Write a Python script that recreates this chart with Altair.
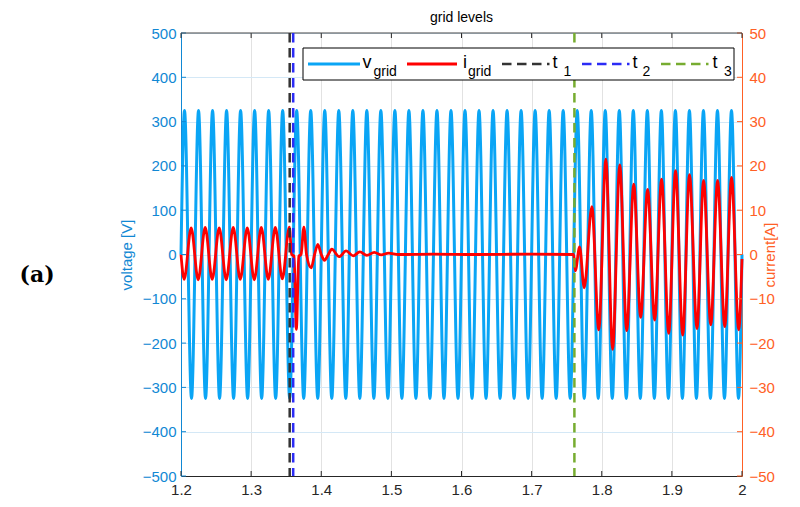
import altair as alt
import pandas as pd

# ---------------- data ----------------
# grid voltage: zero at start/end, then the extreme of every half cycle (V)
v_times = [1.200,
           1.205, 1.215, 1.225, 1.235, 1.245, 1.255, 1.265, 1.275, 1.285, 1.295,
           1.305, 1.315, 1.325, 1.335, 1.345, 1.355, 1.365, 1.375, 1.385, 1.395,
           1.405, 1.415, 1.425, 1.435, 1.445, 1.455, 1.465, 1.475, 1.485, 1.495,
           1.505, 1.515, 1.525, 1.535, 1.545, 1.555, 1.565, 1.575, 1.585, 1.595,
           1.605, 1.615, 1.625, 1.635, 1.645, 1.655, 1.665, 1.675, 1.685, 1.695,
           1.705, 1.715, 1.725, 1.735, 1.745, 1.755, 1.765, 1.775, 1.785, 1.795,
           1.805, 1.815, 1.825, 1.835, 1.845, 1.855, 1.865, 1.875, 1.885, 1.895,
           1.905, 1.915, 1.925, 1.935, 1.945, 1.955, 1.965, 1.975, 1.985, 1.995,
           2.000]
v_values = [0,
            325, -325, 325, -325, 325, -325, 325, -325, 325, -325,
            325, -325, 325, -325, 325, -325, 325, -325, 325, -325,
            325, -325, 325, -325, 325, -325, 325, -325, 325, -325,
            325, -325, 325, -325, 325, -325, 325, -325, 325, -325,
            325, -325, 325, -325, 325, -325, 325, -325, 325, -325,
            325, -325, 325, -325, 325, -325, 325, -325, 325, -325,
            325, -325, 325, -325, 325, -325, 325, -325, 325, -325,
            325, -325, 325, -325, 325, -325, 325, -325, 325, -325,
            0]

# grid current (A): extremes and zero crossings
i_times = [1.2000, 1.2045, 1.2145, 1.2245, 1.2345, 1.2445, 1.2545, 1.2645, 1.2745,
           1.2845, 1.2945, 1.3045, 1.3145, 1.3245, 1.3345, 1.3445, 1.3545,
           1.3578, 1.3612, 1.3645, 1.3680, 1.3712, 1.3752, 1.3790, 1.3857, 1.3905,
           1.3951, 1.4000, 1.4046, 1.4100, 1.4150, 1.4255, 1.4355, 1.4455, 1.4550,
           1.4650, 1.4757, 1.4855, 1.4960, 1.5100, 1.5600, 1.6200, 1.7000, 1.7600,
           1.7623, 1.7684, 1.7750, 1.7859, 1.7958, 1.8058, 1.8155, 1.8257, 1.8356,
           1.8456, 1.8555, 1.8654, 1.8755, 1.8853, 1.8955, 1.9052, 1.9155, 1.9251,
           1.9358, 1.9452, 1.9555, 1.9652, 1.9754, 1.9851, 1.9953, 2.0000]
i_values = [0.0, -5.6, 6.0, -5.7, 6.1, -5.6, 6.0, -5.7, 6.1,
            -5.6, 6.0, -5.7, 6.1, -5.6, 6.1, -5.5, 6.2,
            0.0, -0.4, -16.9, -0.4, 0.0, 6.2, 0.0, -3.0, 0.0,
            2.3, 0.0, -1.3, 0.0, 1.2, -0.5, 0.8, -0.3, 0.6,
            -0.2, 0.5, -0.1, 0.3, 0.0, 0.1, 0.0, 0.1, 0.0,
            -3.7, 1.7, -7.5, 10.8, -17.0, 21.5, -21.4, 20.2, -17.2,
            15.9, -14.2, 14.7, -14.8, 17.0, -17.8, 18.9, -18.2, 18.0,
            -16.7, 16.7, -15.9, 16.7, -16.3, 17.4, -17.0, -1.0]

# event markers
event_names = ["t1", "t2", "t3"]
event_times = [1.355, 1.360, 1.761]
event_colors = ["#333333", "#2b2bf5", "#77ac30"]

x_ticks = [1.2, 1.3, 1.4, 1.5, 1.6, 1.7, 1.8, 1.9, 2.0]
v_ticks = [-500, -400, -300, -200, -100, 0, 100, 200, 300, 400, 500]
i_ticks = [-50, -40, -30, -20, -10, 0, 10, 20, 30, 40, 50]

# ---------------- styling ----------------
W, H = 561, 443
BLUE_AX = "#1188d4"
ORANGE_AX = "#ff6025"
V_COLOR = "#0aa5f5"
I_COLOR = "#ff0000"
FONT = "Liberation Sans"

df_v = pd.DataFrame({"t": v_times, "v": v_values})
df_i = pd.DataFrame({"t": i_times, "i": i_values})
df_ev = pd.DataFrame({"t": event_times, "name": event_names})
df_xt = pd.DataFrame({"t": x_ticks})
df_vt = pd.DataFrame({"y": v_ticks})
df_it = pd.DataFrame({"y": i_ticks})
one = pd.DataFrame({"k": [0]})

X = alt.X("t:Q",
          scale=alt.Scale(domain=[1.2, 2.0], nice=False, zero=False),
          axis=alt.Axis(values=x_ticks, format="~g", title=None, grid=True,
                        gridColor="#e2e2e2", gridWidth=1, tickSize=0,
                        labelPadding=6, labelFlush=False, labelOverlap=False,
                        domainColor="#262626", labelColor="#262626",
                        labelFontSize=15))

v_line = alt.Chart(df_v).mark_line(
    color=V_COLOR, strokeWidth=3, interpolate="monotone"
).encode(
    x=X,
    y=alt.Y("v:Q", scale=alt.Scale(domain=[-500, 500], nice=False),
            axis=alt.Axis(orient="left", values=v_ticks, title="voltage [V]",
                          grid=True, gridColor="#d4e8f6", gridWidth=1,
                          tickSize=0, labelPadding=5, labelColor=BLUE_AX,
                          domainColor=BLUE_AX, titleColor=BLUE_AX,
                          labelFontSize=15, titleFontSize=15,
                          titleFontWeight="normal", titlePadding=8))
)

i_line = alt.Chart(df_i).mark_line(
    color=I_COLOR, strokeWidth=2.8, interpolate="monotone"
).encode(
    x=X,
    y=alt.Y("i:Q", scale=alt.Scale(domain=[-50, 50], nice=False),
            axis=alt.Axis(orient="right", values=i_ticks, title="current[A]",
                          grid=False, tickSize=0, labelPadding=7,
                          labelColor=ORANGE_AX, domainColor=ORANGE_AX,
                          titleColor=ORANGE_AX, labelFontSize=15,
                          titleFontSize=15, titleFontWeight="normal",
                          titleAngle=270, titlePadding=3))
)

# inward tick marks
v_tick_rules = alt.Chart(df_vt).mark_rule(color=BLUE_AX, strokeWidth=1).encode(
    y=alt.Y("y:Q", scale=alt.Scale(domain=[-500, 500], nice=False), axis=None),
    x=alt.value(0), x2=alt.value(5))
i_tick_rules = alt.Chart(df_it).mark_rule(color=ORANGE_AX, strokeWidth=1).encode(
    y=alt.Y("y:Q", scale=alt.Scale(domain=[-50, 50], nice=False), axis=None),
    x=alt.value(W - 5), x2=alt.value(W))
x_tick_bottom = alt.Chart(df_xt).mark_rule(color="#262626", strokeWidth=1).encode(
    x=X, y=alt.value(H - 5), y2=alt.value(H))
x_tick_top = alt.Chart(df_xt).mark_rule(color="#262626", strokeWidth=1).encode(
    x=X, y=alt.value(0), y2=alt.value(5))
top_border = alt.Chart(one).mark_rule(color="#444444", strokeWidth=1).encode(
    x=alt.value(0), x2=alt.value(W), y=alt.value(0))

events = alt.Chart(df_ev).mark_rule(strokeWidth=2.5, strokeDash=[9.5, 5.5]).encode(
    x=X,
    color=alt.Color("name:N", scale=alt.Scale(domain=event_names, range=event_colors),
                    legend=None))

# ---------------- manual legend ----------------
LY = 2  # vertical shift of the legend block
leg = [alt.Chart(one).mark_rect(fill="white", stroke="black", strokeWidth=1).encode(
    x=alt.value(122), x2=alt.value(553), y=alt.value(13 + LY), y2=alt.value(45 + LY))]

def seg(x1, x2, color, dash=None, width=3):
    kw = dict(color=color, strokeWidth=width)
    if dash:
        kw["strokeDash"] = dash
    return alt.Chart(one).mark_rule(**kw).encode(
        x=alt.value(x1), x2=alt.value(x2), y=alt.value(29 + LY))

def txt(x, y, s, size):
    return alt.Chart(one).mark_text(text=s, align="left", baseline="alphabetic",
                                    font=FONT, fontSize=size, color="#000000").encode(
        x=alt.value(x), y=alt.value(y + LY))

MAIN, SUB = 18, 14
leg += [seg(127, 179, V_COLOR), txt(181.5, 32.5, "v", MAIN), txt(192.5, 41, "grid", SUB)]
leg += [seg(226, 276, I_COLOR), txt(282, 32.5, "i", MAIN), txt(287, 41, "grid", SUB)]
leg += [seg(321, 368.5, event_colors[0], [9.5, 5.5], 2.5), txt(371.5, 32.5, "t", MAIN), txt(382.5, 41, "1", SUB)]
leg += [seg(401, 448.5, event_colors[1], [9.5, 5.5], 2.5), txt(451.5, 32.5, "t", MAIN), txt(461.5, 41, "2", SUB)]
leg += [seg(480, 527.5, event_colors[2], [9.5, 5.5], 2.5), txt(531.5, 32.5, "t", MAIN), txt(543, 41, "3", SUB)]

panel_label = alt.Chart(one).mark_text(text="(a)", font="DejaVu Serif", fontSize=22,
                                       fontWeight="bold", align="center",
                                       baseline="alphabetic", color="#000000").encode(
    x=alt.value(-144), y=alt.value(249))

chart = alt.layer(
    v_line, i_line, v_tick_rules, i_tick_rules, x_tick_bottom, x_tick_top,
    top_border, events, *leg, panel_label
).resolve_scale(
    y="independent"
).properties(
    width=W, height=H,
    padding={"left": 173, "top": 25, "right": 50, "bottom": 21},
    autosize=alt.AutoSizeParams(type="none"),
    title=alt.TitleParams("grid levels", fontSize=14, fontWeight="normal",
                          font=FONT, color="#000000", anchor="middle", offset=1)
).configure_view(
    stroke=None
).configure_axis(
    labelFont=FONT, titleFont=FONT
)

chart.save("out.html", embed_options={"renderer": "svg", "actions": False})
